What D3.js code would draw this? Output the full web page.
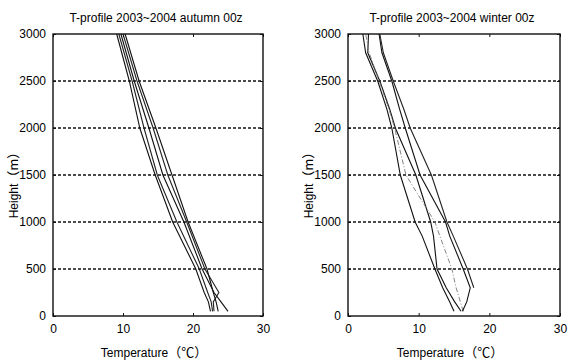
<!DOCTYPE html>
<html>
<head>
<meta charset="utf-8">
<script src="https://cdn.jsdelivr.net/npm/d3@7/dist/d3.min.js"></script>
<style>
  html, body { margin: 0; padding: 0; background: #fff; }
  svg { display: block; }
  text { font-family: "Liberation Sans", Arial, sans-serif; fill: #000; }
</style>
</head>
<body>
<svg id="chart" width="568" height="363"></svg>
<script>
// Temperature profiles (°C) at fixed heights (m)
const autumnHeights = [50, 150, 250, 500, 1000, 1500, 2000, 2500, 3000];
const autumn1 = [22.5, 22.2, 21.6, 20.4, 17.1, 14.6, 12.4, 10.9, 9.1];
const autumn2 = [22.8, 22.6, 22.1, 20.9, 17.7, 14.9, 13.0, 11.3, 9.4];
const autumn3 = [25.0, 24.0, 23.0, 21.3, 18.7, 15.7, 13.7, 11.6, 9.7];
const autumn4 = [23.0, 22.9, 23.7, 21.7, 19.1, 16.4, 14.3, 12.0, 10.0];
const autumn5 = [23.6, 23.3, 22.9, 22.0, 19.3, 17.0, 14.7, 12.3, 10.3];

const winterHeights = [50, 150, 300, 500, 850, 1000, 1500, 2000, 2200, 2500, 2800, 3000];
const winter1 = [15.0, 14.4, 13.4, 12.3, 10.5, 9.5, 7.4, 6.2, 5.5, 4.2, 2.5, 2.1];
const winter2 = [16.0, 15.1, 13.9, 12.6, 12.1, 11.7, 9.6, 6.7, 5.9, 4.5, 2.8, 2.9];
const winter3 = [16.3, 15.9, 15.3, 14.7, 13.0, 12.3, 8.2, 6.6, 5.8, 4.4, 3.0, 2.5];
const winter4 = [16.2, 16.8, 17.3, 16.3, 14.4, 13.8, 10.2, 8.1, 7.3, 6.2, 4.8, 4.4];
const winter5 = [null, null, 17.8, 16.9, 14.9, 14.0, 11.8, 8.8, 7.9, 6.4, 5.0, 4.5];

const xTicks = [0, 10, 20, 30];
const yTicks = [0, 500, 1000, 1500, 2000, 2500, 3000];
const gridLevels = [500, 1000, 1500, 2000, 2500];

const panels = [
  { title: "T-profile 2003~2004 autumn 00z", heights: autumnHeights,
    series: [autumn1, autumn2, autumn3, autumn4, autumn5],
    styles: ["#111", "#222", "#111", "#222", "#111"],
    left: 53, right: 263, labelX: 18 },
  { title: "T-profile 2003~2004 winter 00z", heights: winterHeights,
    series: [winter1, winter2, winter3, winter4, winter5],
    styles: ["#111", "#111", "#777", "#111", "#222"],
    left: 348, right: 560, labelX: 313 }
];

const plotTop = 34, plotBottom = 316;
const svg = d3.select("#chart");
const fmt = d3.format("d");
const cjk = '"Noto Sans CJK SC", sans-serif';

panels.forEach(p => {
  const x = d3.scaleLinear().domain([0, 30]).range([p.left, p.right]);
  const y = d3.scaleLinear().domain([0, 3000]).range([plotBottom, plotTop]);
  const g = svg.append("g");

  // dashed height levels
  g.selectAll("line.grid").data(gridLevels).join("line")
    .attr("class", "grid")
    .attr("x1", p.left).attr("x2", p.right)
    .attr("y1", d => y(d)).attr("y2", d => y(d))
    .attr("stroke", "#111").attr("stroke-width", 1.6)
    .attr("stroke-dasharray", "3,2");

  // profiles
  const line = d3.line()
    .defined(d => d[0] != null)
    .x(d => x(d[0])).y(d => y(d[1]));
  p.series.forEach((s, i) => {
    const pts = s.map((t, k) => [t, p.heights[k]]);
    g.append("path")
      .attr("d", line(pts))
      .attr("fill", "none")
      .attr("stroke", p.styles[i])
      .attr("stroke-width", p.styles[i] === "#777" ? 0.9 : 1.1)
      .attr("stroke-dasharray", p.styles[i] === "#777" ? "5,2,1,2" : null);
  });

  // axes with inward ticks
  const xAxis = d3.axisBottom(x).tickValues(xTicks).tickFormat(fmt)
    .tickSizeInner(-3).tickSizeOuter(0).tickPadding(8);
  const yAxis = d3.axisLeft(y).tickValues(yTicks).tickFormat(fmt)
    .tickSizeInner(-3).tickSizeOuter(0).tickPadding(7);
  const gx = g.append("g").attr("transform", `translate(0,${plotBottom})`).call(xAxis);
  const gy = g.append("g").attr("transform", `translate(${p.left},0)`).call(yAxis);
  [gx, gy].forEach(a => {
    a.select(".domain").remove();
    a.selectAll("line").attr("stroke", "#111");
    a.selectAll("text").attr("font-size", 12).attr("fill", "#000")
      .style("font-family", '"Liberation Sans", Arial, sans-serif');
  });
  // top / right ticks
  g.append("g").attr("transform", `translate(0,${plotTop})`)
    .call(d3.axisTop(x).tickValues(xTicks).tickSizeInner(-3).tickSizeOuter(0).tickFormat(""))
    .call(a => a.select(".domain").remove()).selectAll("line").attr("stroke", "#111");
  g.append("g").attr("transform", `translate(${p.right},0)`)
    .call(d3.axisRight(y).tickValues(yTicks).tickSizeInner(-3).tickSizeOuter(0).tickFormat(""))
    .call(a => a.select(".domain").remove()).selectAll("line").attr("stroke", "#111");

  // frame
  g.append("rect")
    .attr("x", p.left).attr("y", plotTop)
    .attr("width", p.right - p.left).attr("height", plotBottom - plotTop)
    .attr("fill", "none").attr("stroke", "#111").attr("stroke-width", 1.4);

  // title
  g.append("text")
    .attr("x", (p.left + p.right) / 2 - 2).attr("y", 22)
    .attr("text-anchor", "middle").attr("font-size", 12)
    .text(p.title);

  // x label
  const xl = g.append("text")
    .attr("x", (p.left + p.right) / 2 - 4).attr("y", 357)
    .attr("text-anchor", "middle").attr("font-size", 12);
  xl.append("tspan").text("Temperature");
  xl.append("tspan").style("font-family", cjk).attr("font-size", 13).text("（℃）");

  // y label
  const yl = g.append("text")
    .attr("transform", `translate(${p.labelX},182) rotate(-90)`)
    .attr("text-anchor", "middle").attr("font-size", 12);
  yl.append("tspan").text("Height");
  yl.append("tspan").style("font-family", cjk).attr("font-size", 13).text("（m）");
});
</script>
</body>
</html>
